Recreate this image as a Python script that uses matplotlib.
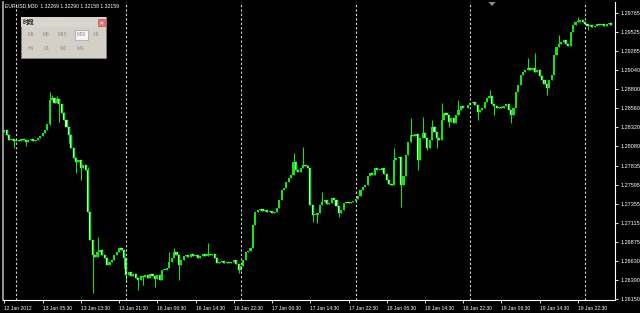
import numpy as np
import matplotlib.pyplot as plt
from matplotlib.patches import Rectangle, Polygon

plt.rcParams['font.family'] = ['Liberation Sans', 'DejaVu Sans']

symbol_info = 'EURUSD,M30  1.32269 1.32290 1.32158 1.32159'

# M30 closes, 12 Jan 21:30 .. 20 Jan 06:00 (open of a bar = previous close)
first_open = 1.2826
close = [
    1.2829, 1.2822, 1.2816, 1.2817, 1.2815, 1.2816, 1.2815, 1.2817, 1.2816, 1.2813, 1.2816, 1.2817, 1.2815, 1.2816, 1.2818, 1.2821,
    1.2825, 1.2829, 1.2836, 1.2867, 1.2869, 1.2863, 1.2868, 1.2861, 1.2850, 1.2841, 1.2832, 1.2822, 1.2806, 1.2793, 1.2788, 1.2791,
    1.2781, 1.2784, 1.2778, 1.2725, 1.2690, 1.2671, 1.2668, 1.2674, 1.2677, 1.2671, 1.2667, 1.2658, 1.2662, 1.2664, 1.2671, 1.2674,
    1.2679, 1.2677, 1.2667, 1.2645, 1.2649, 1.2644, 1.2647, 1.2642, 1.2639, 1.2644, 1.2643, 1.2645, 1.2642, 1.2647, 1.2644, 1.2640,
    1.2645, 1.2639, 1.2652, 1.2652, 1.2654, 1.2662, 1.2667, 1.2674, 1.2671, 1.2658, 1.2664, 1.2669, 1.2671, 1.2668, 1.2672, 1.2669,
    1.2671, 1.2667, 1.2669, 1.2672, 1.2669, 1.2672, 1.2671, 1.2672, 1.2667, 1.2660, 1.2662, 1.2663, 1.2660, 1.2662, 1.2660, 1.2662,
    1.2664, 1.2659, 1.2652, 1.2657, 1.2664, 1.2674, 1.2676, 1.2679, 1.2708, 1.2725, 1.2727, 1.2729, 1.2726, 1.2727, 1.2725, 1.2726,
    1.2724, 1.2725, 1.2730, 1.2740, 1.2753, 1.2755, 1.2763, 1.2768, 1.2772, 1.2788, 1.2778, 1.2775, 1.2781, 1.2784, 1.2783, 1.2781,
    1.2734, 1.2721, 1.2721, 1.2724, 1.2734, 1.2738, 1.2740, 1.2735, 1.2736, 1.2743, 1.2740, 1.2733, 1.2724, 1.2727, 1.2736, 1.2738,
    1.2736, 1.2738, 1.2739, 1.2741, 1.2745, 1.2753, 1.2757, 1.2759, 1.2770, 1.2774, 1.2772, 1.2781, 1.2778, 1.2778, 1.2781, 1.2773,
    1.2765, 1.2760, 1.2759, 1.2791, 1.2793, 1.2794, 1.2759, 1.2770, 1.2797, 1.2813, 1.2822, 1.2821, 1.2824, 1.2791, 1.2818, 1.2825,
    1.2818, 1.2806, 1.2816, 1.2832, 1.2826, 1.2818, 1.2816, 1.2841, 1.2850, 1.2848, 1.2839, 1.2844, 1.2837, 1.2848, 1.2854, 1.2859,
    1.2856, 1.2856, 1.2860, 1.2863, 1.2864, 1.2860, 1.2851, 1.2854, 1.2856, 1.2864, 1.2869, 1.2872, 1.2861, 1.2859, 1.2856, 1.2858,
    1.2856, 1.2859, 1.2861, 1.2854, 1.2848, 1.2856, 1.2877, 1.2885, 1.2898, 1.2902, 1.2904, 1.2907, 1.2904, 1.2907, 1.2902, 1.2904,
    1.2897, 1.2892, 1.2887, 1.2882, 1.2892, 1.2898, 1.2923, 1.2934, 1.2937, 1.2940, 1.2942, 1.2937, 1.2935, 1.2952, 1.2961, 1.2965,
    1.2965, 1.2968, 1.2965, 1.2963, 1.2960, 1.2961, 1.2959, 1.2960, 1.2963, 1.2961, 1.2963, 1.2960, 1.2963, 1.2964, 1.2961,
]

# visible shadows (bar index -> price)
high_wick = {19: 1.2877, 20: 1.2873, 22: 1.2872, 35: 1.2782, 39: 1.2693, 69: 1.2674, 71: 1.2679,
             85: 1.2686, 121: 1.2800, 125: 1.2807, 133: 1.2750, 163: 1.2806, 170: 1.2844, 175: 1.2845,
             179: 1.2841, 183: 1.2863, 190: 1.2867, 203: 1.2879, 219: 1.2920, 222: 1.2926, 232: 1.2949,
             240: 1.2971}
low_wick = {4: 1.2806, 9: 1.2808, 19: 1.2835, 23: 1.2839, 27: 1.2812, 30: 1.2774, 32: 1.2765, 37: 1.2623,
            50: 1.2654, 51: 1.2637, 56: 1.2626, 58: 1.2633, 63: 1.2630, 73: 1.2639, 98: 1.2648, 129: 1.2712,
            131: 1.2711, 140: 1.2719, 166: 1.2731, 173: 1.2778, 177: 1.2803, 181: 1.2806, 186: 1.2832,
            198: 1.2841, 205: 1.2848, 212: 1.2837, 227: 1.2873, 244: 1.2955}

time_labels = ['12 Jan 2012', '13 Jan 05:30', '13 Jan 13:30', '13 Jan 21:30', '16 Jan 06:30',
               '16 Jan 14:30', '16 Jan 22:30', '17 Jan 06:30', '17 Jan 14:30', '17 Jan 22:30',
               '18 Jan 06:30', '18 Jan 14:30', '18 Jan 22:30', '19 Jan 06:30', '19 Jan 14:30',
               '19 Jan 22:30']
label_bars = [0, 16, 32, 48, 64, 80, 96, 112, 128, 144, 160, 176, 192, 208, 224, 240]
day_breaks = [5, 51, 99, 147, 195, 243]
price_ticks = [1.29765, 1.29525, 1.29285, 1.29040, 1.28800, 1.28560, 1.28320, 1.28080,
               1.27835, 1.27595, 1.27355, 1.27115, 1.26875, 1.26630, 1.26390, 1.26150]
tf_row1 = ['M1', 'M5', 'M15', 'M30', 'H1']
tf_row2 = ['H4', 'D1', 'W1', 'MN']

W, H = 640, 313
fig = plt.figure(figsize=(W / 100, H / 100), dpi=100, facecolor='black')
ax = fig.add_axes([3 / W, 1 - 300 / H, 612 / W, 298 / H])
ax.set_facecolor('black')

opens = [first_open] + close[:-1]
green = '#1ae01a'
for i, (o, c) in enumerate(zip(opens, close)):
    hi = high_wick.get(i, max(o, c))
    lo = low_wick.get(i, min(o, c))
    ax.vlines(i, lo, hi, colors=green, lw=0.8)
    bottom = min(o, c)
    height = max(abs(c - o), 0.0001)
    if c >= o:
        ax.bar(i, height, bottom=bottom, width=0.9, color=green, lw=0)
    else:
        ax.bar(i, height, bottom=bottom, width=0.9, color='#e8ffe8', edgecolor=green, lw=0.35)

for d in day_breaks:
    ax.axvline(d, color='#d8d8d8', lw=0.8, ls=(0, (2, 2)))

ax.set_xlim(-0.57, 255.5)
ax.set_ylim(1.26137, 1.29904)

ax.yaxis.tick_right()
ax.set_yticks(price_ticks)
ax.set_yticklabels(['%.5f' % p for p in price_ticks])
ax.tick_params(axis='y', colors='white', labelsize=4, length=2.5, width=0.6, pad=1.5)
ax.set_xticks(label_bars)
ax.set_xticklabels(time_labels, ha='left')
ax.tick_params(axis='x', colors='white', labelsize=3.6, length=2.5, width=0.6, pad=1.5)
for s in ['right', 'bottom']:
    ax.spines[s].set_color('white')
    ax.spines[s].set_linewidth(0.8)
ax.spines['top'].set_visible(False)
ax.spines['left'].set_color('#b0b0b0')
ax.spines['left'].set_linewidth(1.2)

fig.text(5 / W, 1 - 6 / H, symbol_info, color='white', fontsize=3.7, va='center', ha='left')


def px(x, y):
    return x / W, 1 - y / H


# timeframes toolbar window
x0, y0, x1, y1 = 20.5, 16.5, 106, 58
fig.add_artist(Rectangle(px(x0, y1), (x1 - x0) / W, (y1 - y0) / H, transform=fig.transFigure,
                         facecolor='#d4d0c8', edgecolor='#808080', lw=0.6))
fig.add_artist(Rectangle(px(x0 + 0.5, 27), (x1 - x0 - 1) / W, 10 / H, transform=fig.transFigure,
                         facecolor='#d8d5ce', edgecolor='none'))
fig.text(*px(23, 22), '时段', family=['Noto Sans CJK SC'], fontsize=4.2, weight='bold',
         color='#202020', va='center', ha='left')
fig.add_artist(Rectangle(px(98, 26), 7 / W, 7 / H, transform=fig.transFigure,
                         facecolor='#e87070', edgecolor='#c04040', lw=0.4))
fig.text(*px(101.5, 22.5), '×', fontsize=4.5, color='white', va='center', ha='center', weight='bold')
fig.add_artist(Rectangle(px(75, 40), 13 / W, 10 / H, transform=fig.transFigure,
                         facecolor='#f4f4f4', edgecolor='#909090', lw=0.4))
row1_x = [31, 46, 62, 81, 97]
row2_x = [31, 47, 64, 80]
for name, xx in zip(tf_row1, row1_x):
    fig.text(*px(xx, 35), name, fontsize=3.4, color='#8a8a8a', va='center', ha='center')
for name, xx in zip(tf_row2, row2_x):
    fig.text(*px(xx, 49), name, fontsize=3.4, color='#8a8a8a', va='center', ha='center')

# chart shift marker
fig.add_artist(Polygon([px(488.5, 2), px(495.5, 2), px(492, 6)], closed=True,
                       transform=fig.transFigure, facecolor='#8090a0', edgecolor='none'))

fig.savefig('out.png', dpi=100, facecolor='black')
